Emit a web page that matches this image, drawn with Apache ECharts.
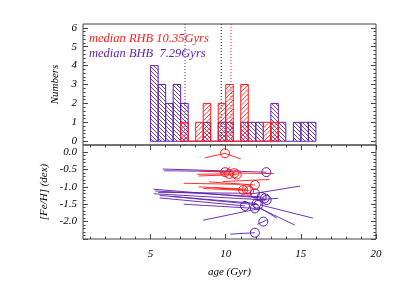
<!DOCTYPE html>
<html><head><meta charset="utf-8">
<script src="https://cdn.jsdelivr.net/npm/echarts@6/dist/echarts.min.js"></script>
<style>html,body{margin:0;padding:0;background:#fff}#c{width:407px;height:291px}</style>
</head><body><div id="c"></div>
<script>
// ---------------- data ----------------
const binWidth = 0.5;
const rhbBins   = [7.0,7.5,8.0,8.5,9.0,9.5,10.0,10.5,11.0,11.5,12.0,12.5,13.0];
const rhbCounts = [1,  0,  1,  2,  0,  2,  3,   0,   3,   0,   0,   1,   1];
const bhbBins   = [5.0,5.5,6.0,6.5,7.0,7.5,8.0,8.5,9.0,9.5,10.0,10.5,11.0,11.5,12.0,12.5,13.0,13.5,14.0,14.5,15.0,15.5];
const bhbCounts = [4,  3,  2,  3,  2,  0,  0,  1,  0,  1,  1,   0,   1,   1,   1,   0,   2,   1,   0,   1,   1,   1];
const medianRHB = 10.35, medianBHB = 7.29, medianAll = 9.7;
const rhbLabel = 'median RHB 10.35Gyrs';
const bhbLabel = 'median BHB  7.29Gyrs';

// age / [Fe/H] segments: [age1, feh1, age2, feh2]
const rhbSegments = [
  [8.6,-0.17, 9.95,-0.04],
  [9.95,-0.04, 11.0,-0.20],
  [8.3,-0.55, 9.95,-0.58],
  [8.1,-0.64, 10.23,-0.63],
  [8.2,-0.69, 10.73,-0.65],
  [9.6,-0.60, 13.2,-0.62],
  [9.95,-0.58, 10.3,-0.43],
  [7.2,-0.90, 11.0,-0.93],
  [8.9,-0.86, 11.94,-0.95],
  [9.8,-0.85, 12.9,-0.79],
  [8.2,-1.00, 11.16,-1.09],
  [8.5,-1.05, 11.56,-1.11],
  [9.2,-1.02, 11.39,-1.07]
];
const rhbCircles = [[9.95,-0.04],[9.95,-0.58],[10.23,-0.63],[10.57,-0.61],[10.73,-0.65],[11.94,-0.95],[11.16,-1.09],[11.39,-1.07],[11.56,-1.11]];
const bhbSegments = [
  [5.8,-0.49, 12.7,-0.58],
  [5.9,-0.54, 10.4,-0.56],
  [5.2,-1.07, 12.6,-1.33],
  [5.3,-1.12, 12.39,-1.29],
  [5.5,-1.16, 11.94,-1.19],
  [5.2,-1.20, 12.72,-1.38],
  [5.6,-1.25, 12.06,-1.48],
  [6.5,-1.28, 12.16,-1.52],
  [5.6,-1.32, 11.28,-1.55],
  [7.2,-1.50, 11.94,-1.62],
  [8.5,-1.96, 12.3,-1.62],
  [12.1,-2.08, 12.8,-1.94],
  [12.2,-1.58, 13.4,-1.90],
  [12.3,-1.52, 15.8,-1.90],
  [12.28,-1.62, 14.6,-2.10],
  [11.94,-1.19, 14.95,-0.98],
  [11.94,-1.38, 13.5,-1.33],
  [10.3,-2.36, 11.94,-2.32]
];
const bhbCircles = [[12.7,-0.58],[11.94,-1.19],[12.39,-1.29],[12.6,-1.33],[12.72,-1.38],[12.06,-1.48],[12.16,-1.52],[11.28,-1.55],[11.94,-1.62],[12.5,-2.0],[11.94,-2.32]];
const fehTicks = [0.0,-0.5,-1.0,-1.5,-2.0];

// ---------------- styles ----------------
const RED = '#ff1a1a', PURPLE = '#5e1fae', AX = '#444';
const FONT = 'Liberation Serif';
const lbl = {fontFamily: FONT, fontStyle: 'italic', fontSize: 11, color: '#000'};

// ---------------- layout ----------------
const L = 83, R = 376, T1 = 24, B1 = 145, T2 = 145, B2 = 239;
const X0 = 0.5, X1 = 20, Y0a = -0.2, Y1a = 6.2, Y0b = -2.5, Y1b = 0.2;
const sx = (R - L) / (X1 - X0), sya = (B1 - T1) / (Y1a - Y0a), syb = (B2 - T2) / (Y1b - Y0b);
const xpx = v => L + (v - X0) * sx;

function hidden(extra) {
  return Object.assign({type: 'value', axisLine: {show: false}, axisTick: {show: false},
    axisLabel: {show: false}, splitLine: {show: false}}, extra);
}
function tickAxis(extra, len, minor, labels) {
  return Object.assign({type: 'value', axisLine: {show: false},
    axisTick: {show: true, inside: true, length: len, lineStyle: {color: AX}},
    minorTick: minor ? {show: true, splitNumber: minor, length: len / 2, lineStyle: {color: AX}} : {show: false},
    axisLabel: labels ? Object.assign({show: true}, lbl, labels) : {show: false},
    splitLine: {show: false}, minorSplitLine: {show: false}}, extra);
}

function histRender(dir, color, step) {
  return function (params, api) {
    const x0 = api.value(0), n = api.value(1);
    const p0 = api.coord([x0, n]), p1 = api.coord([x0 + binWidth, 0]);
    const rx0 = p0[0], ry0 = p0[1], rx1 = p1[0], ry1 = p1[1];
    const st = {stroke: color, lineWidth: 1, fill: null};
    const ch = [];
    if (ry1 - ry0 < 0.5) {
      ch.push({type: 'line', shape: {x1: rx0, y1: ry1, x2: rx1, y2: ry1}, style: st});
    } else {
      ch.push({type: 'rect', shape: {x: rx0, y: ry0, width: rx1 - rx0, height: ry1 - ry0}, style: st});
      if (dir === 'fwd') {
        for (let c = Math.ceil((rx0 + ry0) / step) * step; c <= rx1 + ry1; c += step) {
          const xa = Math.max(rx0, c - ry1), xb = Math.min(rx1, c - ry0);
          if (xb > xa) ch.push({type: 'line', shape: {x1: xa, y1: c - xa, x2: xb, y2: c - xb}, style: {stroke: color, lineWidth: 1, opacity: 0.85}});
        }
      } else {
        for (let c = Math.ceil((ry0 - rx1) / step) * step; c <= ry1 - rx0; c += step) {
          const xa = Math.max(rx0, ry0 - c), xb = Math.min(rx1, ry1 - c);
          if (xb > xa) ch.push({type: 'line', shape: {x1: xa, y1: xa + c, x2: xb, y2: xb + c}, style: {stroke: color, lineWidth: 1, opacity: 0.85}});
        }
      }
    }
    return {type: 'group', children: ch};
  };
}
function segRender(color) {
  return function (params, api) {
    const a = api.coord([api.value(0), api.value(1)]), b = api.coord([api.value(2), api.value(3)]);
    return {type: 'line', shape: {x1: a[0], y1: a[1], x2: b[0], y2: b[1]}, style: {stroke: color, lineWidth: 1, opacity: 0.9}};
  };
}
function medLine(m, color) {
  return {type: 'line', xAxisIndex: 0, yAxisIndex: 0, data: [[m, Y0a], [m, Y1a]], symbol: 'none', silent: true,
    lineStyle: {color: color, width: 1, type: [1, 2]}, z: 1};
}
function circleSeries(data, color) {
  return {type: 'scatter', xAxisIndex: 2, yAxisIndex: 3, data: data, symbol: 'circle', symbolSize: 9,
    itemStyle: {color: 'rgba(0,0,0,0)', borderColor: color, borderWidth: 1, opacity: 1}, z: 4, silent: true};
}

const gridA = {left: L, top: T1, width: R - L, height: B1 - T1, show: true, borderColor: AX, borderWidth: 1, backgroundColor: 'transparent'};
const gridAm = {left: L, top: T1 + (Y1a - 6) * sya, width: R - L, height: 6 * sya};
const gridB = {left: L, top: T2, width: R - L, height: B2 - T2, show: true, borderColor: AX, borderWidth: 1, backgroundColor: 'transparent'};
const gridBm = {left: L, top: T2 + Y1b * syb, width: R - L, height: (0 - Y0b) * syb};
const gridX5 = {left: xpx(5), top: T2, width: R - xpx(5), height: B2 - T2};
const gridX1 = {left: xpx(1), top: T2, width: xpx(5) - xpx(1), height: B2 - T2};

const chart = echarts.init(document.getElementById('c'), null, {renderer: 'canvas'});
chart.setOption({
  animation: false,
  backgroundColor: '#fff',
  grid: [gridA, gridAm, gridB, gridBm, gridX5, gridX1],
  xAxis: [
    hidden({gridIndex: 0, min: X0, max: X1}),
    hidden({gridIndex: 1, min: X0, max: X1}),
    hidden({gridIndex: 2, min: X0, max: X1, name: 'age (Gyr)', nameLocation: 'middle', nameGap: 28,
      nameTextStyle: Object.assign({}, lbl)}),
    hidden({gridIndex: 3, min: X0, max: X1}),
    tickAxis({gridIndex: 4, min: 5, max: 20, interval: 5, position: 'bottom'}, 5, 5, {margin: 10}),
    tickAxis({gridIndex: 4, min: 5, max: 20, interval: 5, position: 'top'}, 5, 5, null),
    tickAxis({gridIndex: 5, min: 1, max: 5, interval: 1, position: 'bottom'}, 2.5, 0, null),
    tickAxis({gridIndex: 5, min: 1, max: 5, interval: 1, position: 'top'}, 2.5, 0, null)
  ],
  yAxis: [
    hidden({gridIndex: 0, min: Y0a, max: Y1a, name: 'Numbers', nameLocation: 'middle', nameGap: 22,
      nameTextStyle: Object.assign({}, lbl)}),
    tickAxis({gridIndex: 1, min: 0, max: 6, interval: 1, position: 'left'}, 5, 5, {margin: 6}),
    tickAxis({gridIndex: 1, min: 0, max: 6, interval: 1, position: 'right'}, 5, 5, null),
    hidden({gridIndex: 2, min: Y0b, max: Y1b, name: '[Fe/H] (dex)', nameLocation: 'middle', nameGap: 33,
      nameTextStyle: Object.assign({}, lbl)}),
    tickAxis({gridIndex: 3, min: Y0b, max: 0, interval: 0.5, position: 'left'}, 5, 5,
      {margin: 6, formatter: v => fehTicks.some(t => Math.abs(t - v) < 1e-6) ? v.toFixed(1) : ''}),
    tickAxis({gridIndex: 3, min: Y0b, max: 0, interval: 0.5, position: 'right'}, 5, 5, null),
    hidden({gridIndex: 4, min: 0, max: 1}),
    hidden({gridIndex: 5, min: 0, max: 1})
  ],
  graphic: [
    {type: 'text', left: 89, top: 32, style: {text: rhbLabel, fill: RED, fontFamily: FONT, fontStyle: 'italic', fontSize: 12.5}},
    {type: 'text', left: 89, top: 47, style: {text: bhbLabel, fill: PURPLE, fontFamily: FONT, fontStyle: 'italic', fontSize: 12.5}}
  ],
  series: [
    medLine(medianBHB, PURPLE), medLine(medianAll, '#222'), medLine(medianRHB, RED),
    {type: 'custom', xAxisIndex: 0, yAxisIndex: 0, clip: true, encode: {x: 0, y: 1},
      data: bhbBins.map((b, i) => [b, bhbCounts[i]]), renderItem: histRender('bwd', PURPLE, 4), z: 2},
    {type: 'custom', xAxisIndex: 0, yAxisIndex: 0, clip: true, encode: {x: 0, y: 1},
      data: rhbBins.map((b, i) => [b, rhbCounts[i]]), renderItem: histRender('fwd', RED, 4.5), z: 3},
    {type: 'custom', xAxisIndex: 2, yAxisIndex: 3, clip: true, encode: {x: [0, 2], y: [1, 3]},
      data: bhbSegments, renderItem: segRender(PURPLE), z: 2},
    {type: 'custom', xAxisIndex: 2, yAxisIndex: 3, clip: true, encode: {x: [0, 2], y: [1, 3]},
      data: rhbSegments, renderItem: segRender(RED), z: 3},
    circleSeries(bhbCircles, PURPLE),
    circleSeries(rhbCircles, RED)
  ]
});
</script></body></html>
